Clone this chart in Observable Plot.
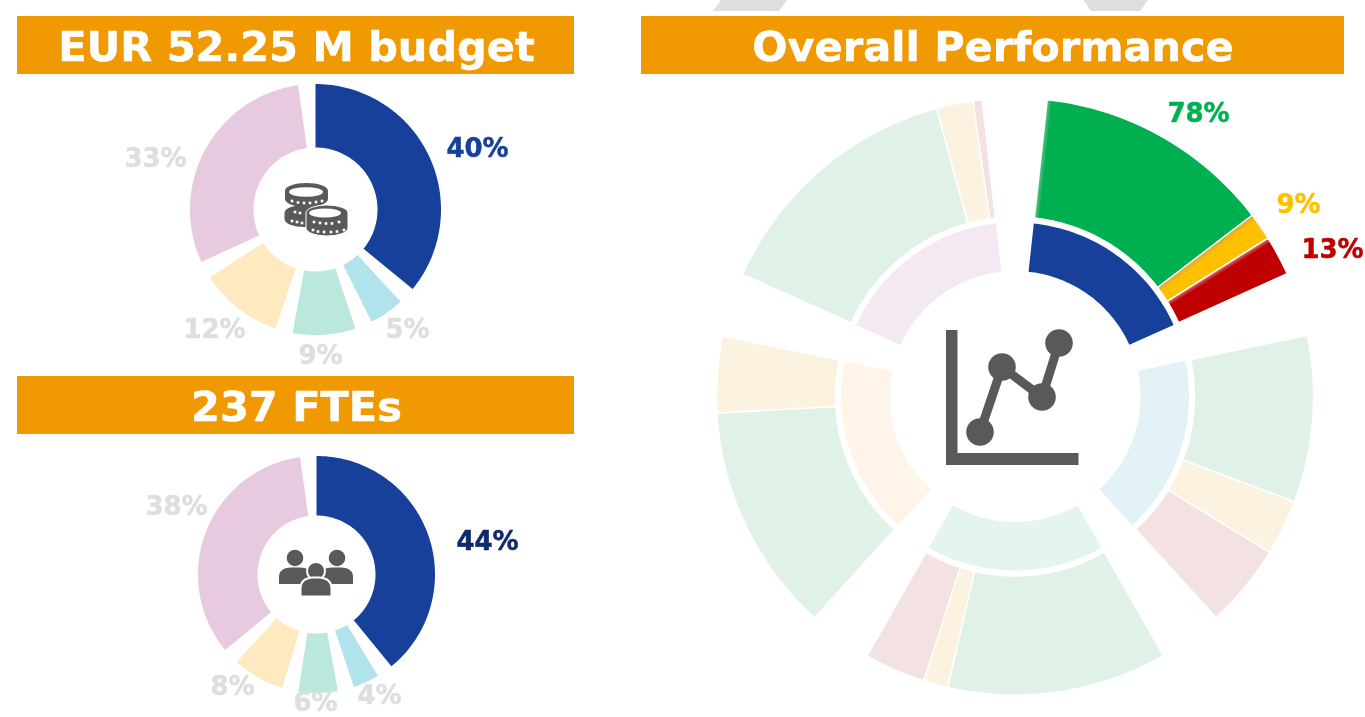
<!DOCTYPE html>
<html>
<head>
<meta charset="utf-8">
<script src="https://cdn.jsdelivr.net/npm/d3@7"></script>
<script src="https://cdn.jsdelivr.net/npm/@observablehq/plot@0.6"></script>
<style>
html,body{margin:0;padding:0;background:#fff;overflow:hidden}
svg{display:block;filter:blur(0.4px)}
</style>
</head>
<body>
<div id="chart"></div>
<script>
// ---- data ----
const titles = ["EUR 52.25 M budget", "237 FTEs", "Overall Performance"];
const budgetValues = [40, 5, 9, 12, 33];
const budgetLabels = ["40%", "5%", "9%", "12%", "33%"];
const fteValues = [44, 4, 6, 8, 38];
const fteLabels = ["44%", "4%", "6%", "8%", "38%"];
const perfAreaShares = [20, 20, 20, 20, 20];
const perfGreen = [78, 54, 72, 75, 85];
const perfYellow = [9, 18, 8, 25, 12];
const perfRed = [13, 27, 20, 0, 3];
const perfLabels = ["78%", "9%", "13%"];

// ---- styles ----
const donutColors = ["#17409A", "#B1E3ED", "#BAE8DD", "#FFE9C0", "#E7C9E0"];
const innerColors = ["#17409A", "#E3F2F7", "#E4F4F1", "#FEF4E7", "#F4E9F3"];
const mutedRag = ["#E0F1E7", "#FBF3E0", "#F4E1E1"];
const activeRag = ["url(#gGreen)", "url(#gYellow)", "url(#gRed)"];
const gray = "#DEDEDE";
const iconGray = "#595959";
const font = "DejaVu Sans, Verdana, sans-serif";

// ---- layout (pixels of the 1365x717 page) ----
const layout = {
  banners: [[17, 574, 16, 74, 296, 47], [17, 574, 376, 434, 296, 407], [641, 1344, 16, 74, 992.5, 47]],
  budget: {cx: 315, cy: 209, r0: 62, r1: 125.5, pad: 8,
    labels: [[477, 149, "#17409A"], [407, 330, gray], [320, 356, gray], [214, 330, gray], [155, 159, gray]]},
  fte: {cx: 316, cy: 574, r0: 59, r1: 118.5, pad: 8,
    labels: [[487, 542, "#10296E"], [379, 696, gray], [315, 703, gray], [232, 687, gray], [176, 507, gray]]},
  perf: {cx: 1014.5, cy: 396, start: 6.2, gap: 12.5, r0: 125.5, r1: 174, r2: 179.5, r3: 298.5,
    labels: [[1198, 114, "#00B050"], [1298, 205, "#FFC000"], [1332, 250, "#C00000"]]}
};

// ---- geometry through the x/y scales ----
const pt = (cx, cy, r, deg) => {
  const a = deg * Math.PI / 180;
  return [cx + r * Math.sin(a), cy - r * Math.cos(a)];
};
function sector(id, color, cx, cy, r0, r1, a0, a1) {
  const pts = [];
  const n = Math.max(2, Math.ceil((a1 - a0) / 1.5));
  for (let i = 0; i <= n; ++i) pts.push(pt(cx, cy, r1, a0 + (a1 - a0) * i / n));
  for (let i = n; i >= 0; --i) pts.push(pt(cx, cy, r0, a0 + (a1 - a0) * i / n));
  return pts.map(([x, y]) => ({id, color, x, y}));
}
function donut(name, values, cfg) {
  const total = d3.sum(values);
  const k = (360 - cfg.pad * values.length) / total;
  let a = 0;
  return values.flatMap((v, i) => {
    const s = sector(name + i, donutColors[i], cfg.cx, cfg.cy, cfg.r0, cfg.r1, a, a + v * k);
    a += v * k + cfg.pad;
    return s;
  });
}
const P = layout.perf;
const innerPolys = [], outerPolys = [];
const edge = {};
{
  let a = P.start;
  perfAreaShares.forEach((share, g) => {
    const period = share * 3.6, span = period - P.gap;
    innerPolys.push(...sector("in" + g, innerColors[g], P.cx, P.cy, P.r0, P.r1, a, a + span));
    const parts = [perfGreen[g], perfYellow[g], perfRed[g]];
    const tot = d3.sum(parts);
    let b = a;
    parts.forEach((v, j) => {
      if (!v) return;
      const w = span * v / tot;
      if (g === 0) edge[j] = b;
      outerPolys.push(...sector("out" + g + "_" + j, g === 0 ? activeRag[j] : mutedRag[j], P.cx, P.cy, P.r2, P.r3, b, b + w));
      b += w;
    });
    a += period;
  });
}
const labelRows = (labels, cfg) => labels.map((t, i) => ({t, x: cfg.labels[i][0], y: cfg.labels[i][1], c: cfg.labels[i][2]}));
const allLabels = [
  ...labelRows(budgetLabels, layout.budget),
  ...labelRows(fteLabels, layout.fte),
  ...labelRows(perfLabels, layout.perf)
];
const bannerRows = titles.map((t, i) => {
  const b = layout.banners[i];
  return {t, x1: b[0], x2: b[1], y1: b[2], y2: b[3], tx: b[4], ty: b[5]};
});

// ---- decoration: gradients, background chevrons and icons ----
function grad(id, deg, r, px, c0, c1) {
  const [x1, y1] = pt(P.cx, P.cy, r, deg);
  const a = deg * Math.PI / 180;
  const x2 = x1 + px * Math.cos(a), y2 = y1 + px * Math.sin(a);
  return `<linearGradient id="${id}" gradientUnits="userSpaceOnUse" x1="${x1}" y1="${y1}" x2="${x2}" y2="${y2}"><stop offset="0" stop-color="${c0}"/><stop offset="1" stop-color="${c1}"/></linearGradient>`;
}
const decorBack = () => {
  const g = document.createElementNS("http://www.w3.org/2000/svg", "g");
  g.innerHTML = `<defs>${grad("gGreen", edge[0], 240, 5, "#62C48C", "#00B050")}${grad("gYellow", edge[1], 240, 6, "#D8A93A", "#FFC000")}${grad("gRed", edge[2], 240, 5, "#DC7474", "#C00000")}</defs>
  <polygon points="713,11 721,0 787,0 779,11" fill="${gray}"/>
  <polygon points="1083.5,0 1091,11 1140,11 1148,0" fill="${gray}"/>`;
  return g;
};
const dots = (list) => list.map(([x, y]) => `<rect x="${x - 1.3}" y="${y - 1.3}" width="2.6" height="2.6" fill="#fff"/>`).join("");
const drum = (cx, rx, ry, yTop, yBot, extra = "") =>
  `<path d="M${cx - rx} ${yTop}A${rx} ${ry} 0 0 1 ${cx + rx} ${yTop}V${yBot}A${rx} ${ry} 0 0 1 ${cx - rx} ${yBot}Z" fill="${iconGray}" ${extra}/>`;
const decorIcons = () => {
  const g = document.createElementNS("http://www.w3.org/2000/svg", "g");
  g.innerHTML = `
  <g>
    ${drum(304, 19.5, 8, 213, 219)}
    ${drum(306.5, 21.5, 8, 191, 199)}
    <ellipse cx="306" cy="192" rx="17" ry="4.800" fill="#fff"/>
    ${dots([[292, 201], [298, 202.5], [304, 203], [310, 203], [316, 202], [322, 201], [295, 212], [300, 213], [292, 221], [297, 222], [302, 223]])}
    ${drum(327, 21, 8, 213, 228, 'stroke="#fff" stroke-width="1"')}
    <ellipse cx="325" cy="213" rx="16" ry="4.500" fill="#fff"/>
    ${dots([[314, 222], [320, 223], [326, 223.500], [332, 223.500], [339, 222], [313, 230], [318, 231.500], [324, 232], [331, 232], [337, 231.500], [344, 230]])}
  </g>
  <g fill="${iconGray}">
    <circle cx="295" cy="558" r="8.300"/><circle cx="337" cy="558" r="8.300"/>
    <path d="M279 584V577Q279 568 291 567.500H300Q312 568 312 577V584Z"/>
    <path d="M353 584V577Q353 568 341 567.500H332Q320 568 320 577V584Z"/>
    <circle cx="316" cy="571" r="9" stroke="#fff" stroke-width="2"/>
    <path d="M300.500 596.500V588Q300.500 579 312 577.500H320Q331.500 579 331.500 588V596.500Z" stroke="#fff" stroke-width="2"/>
  </g>
  <g fill="${iconGray}">
    <rect x="946" y="330" width="11.500" height="135"/>
    <rect x="946" y="453" width="132.500" height="12"/>
    <polyline points="980,432 1002,367 1042,397 1059,343" fill="none" stroke="${iconGray}" stroke-width="9"/>
    <circle cx="980" cy="432" r="13.800"/><circle cx="1002" cy="367" r="13.800"/>
    <circle cx="1042" cy="397" r="13.800"/><circle cx="1059" cy="343" r="13.800"/>
  </g>`;
  return g;
};

// ---- plot ----
const chart = Plot.plot({
  width: 1365,
  height: 717,
  margin: 0,
  x: {domain: [0, 1365], axis: null},
  y: {domain: [717, 0], axis: null},
  color: {type: "identity"},
  style: {background: "#fff", overflow: "hidden"},
  marks: [
    decorBack,
    Plot.rect(bannerRows, {x1: "x1", x2: "x2", y1: "y1", y2: "y2", fill: "#F09900", inset: 0}),
    Plot.text(bannerRows, {x: "tx", y: "ty", text: "t", fill: "#fff", stroke: "#fff", strokeWidth: 0.5, fontSize: 41.5, fontWeight: "bold", fontFamily: font, lineAnchor: "middle"}),
    Plot.line(donut("b", budgetValues, layout.budget), {x: "x", y: "y", z: "id", fill: "color", stroke: "none", curve: "linear-closed"}),
    Plot.line(donut("f", fteValues, layout.fte), {x: "x", y: "y", z: "id", fill: "color", stroke: "none", curve: "linear-closed"}),
    Plot.line(innerPolys, {x: "x", y: "y", z: "id", fill: "color", stroke: "none", curve: "linear-closed"}),
    Plot.line(outerPolys, {x: "x", y: "y", z: "id", fill: "color", stroke: "#fff", strokeWidth: 1.4, curve: "linear-closed"}),
    Plot.text(allLabels, {x: "x", y: "y", dy: -1, text: "t", fill: "c", stroke: "c", strokeWidth: 0.5, fontSize: 26, fontWeight: "bold", fontFamily: font, lineAnchor: "middle"}),
    decorIcons
  ]
});
document.getElementById("chart").append(chart);
</script>
</body>
</html>
